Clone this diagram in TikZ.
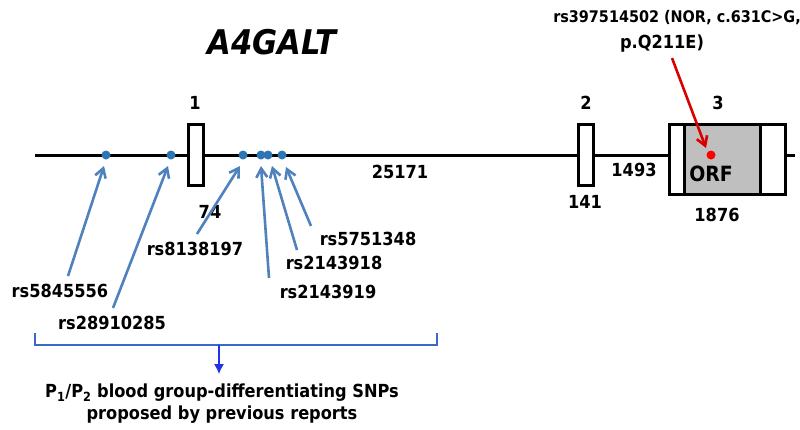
\documentclass[tikz,border=0pt]{standalone}
\usepackage{fontspec}
\setmainfont{DejaVu Sans Condensed}
\usetikzlibrary{arrows.meta}
\definecolor{snpblue}{RGB}{79,129,189}
\definecolor{dotblue}{RGB}{46,117,182}
\definecolor{orfgray}{RGB}{191,191,191}
\begin{document}
\begin{tikzpicture}[x=1pt,y=-1pt,
  lab/.style={font=\fontsize{18}{22}\selectfont\bfseries},
  exon/.style={draw=black, line width=3pt, fill=white},
  snp/.style={circle, fill=dotblue, inner sep=0pt, minimum size=9pt},
  snparrow/.style={-{Straight Barb[length=9pt,width=11pt]}, snpblue, line width=2.6pt}]
\useasboundingbox (0,0) rectangle (800,429);

% gene title
\node[font=\fontsize{34}{40}\selectfont\bfseries\itshape] (title) at (272,42) {A4GALT};

% backbone
\draw[line width=3pt] (35,155) -- (795,155);

% exons
\draw[exon] (188,124) rectangle (203,185);
\draw[exon] (578,124) rectangle (593,185);
\draw[exon] (669,124) rectangle (785,194);
\draw[line width=3pt, fill=orfgray] (684,124) rectangle (760,194);
\node[lab] (e1) at (195,103) {1};
\node[lab] (e2) at (586,103) {2};
\node[lab] (e3) at (718,103) {3};
\node[lab] (l74) at (210,212) {74};
\node[lab] (l141) at (585,202) {141};
\node[lab] (l1876) at (717,215) {1876};
\node[lab] (l1493) at (634,170) {1493};
\node[lab] (l25171) at (400,172) {25171};
\node[font=\fontsize{21}{25}\selectfont\bfseries] (orf) at (711,174) {ORF};

% SNP positions
\foreach \n/\x in {a/106,b/171,c/243,d/261,e/268,f/282}
  \node[snp] (s\n) at (\x,155) {};

% SNP labels
\node[lab] (ta) at (60,291) {rs5845556};
\node[lab] (tb) at (112,323) {rs28910285};
\node[lab] (tc) at (195,249) {rs8138197};
\node[lab] (td) at (328,292) {rs2143919};
\node[lab] (te) at (334,263) {rs2143918};
\node[lab] (tf) at (368,239) {rs5751348};

\coordinate (pa) at (68,276);   \coordinate (pb) at (113,308);
\coordinate (pc) at (197,234);  \coordinate (pd) at (269,278);
\coordinate (pe) at (297,250);  \coordinate (pf) at (311,226);
\draw[snparrow] (pa) -- (104,166);
\draw[snparrow] (pb) -- (168,166);
\draw[snparrow] (pc) -- (240,166);
\draw[snparrow] (pd) -- (261,166);
\draw[snparrow] (pe) -- (272,166);
\draw[snparrow] (pf) -- (286,167);

% NOR variant
\node[font=\fontsize{16}{20}\selectfont\bfseries] (nor1) at (677,18) {rs397514502 (NOR, c.631C>G,};
\node[lab] (nor2) at (662,44) {p.Q211E)};
\node[circle, fill=red, inner sep=0pt, minimum size=9pt] (snor) at (711,155) {};
\draw[-{Straight Barb[length=9pt,width=11pt]}, red!85!black, line width=2.6pt] (672,58) -- (706,148);

% bracket for P1/P2 SNPs
\draw[snpblue!80!blue, line width=1.2pt] (35,333) -- (35,345) -- (437,345) -- (437,333);
\coordinate (bm) at (219,345);
\draw[-{Latex[length=10pt,width=10pt]}, blue!60!snpblue, line width=1.2pt] (bm) -- (219,374);
\node[lab, align=center] (p12) at (222,404) {P\textsubscript{1}/P\textsubscript{2} blood group-differentiating SNPs\\proposed by previous reports};
\end{tikzpicture}
\end{document}
